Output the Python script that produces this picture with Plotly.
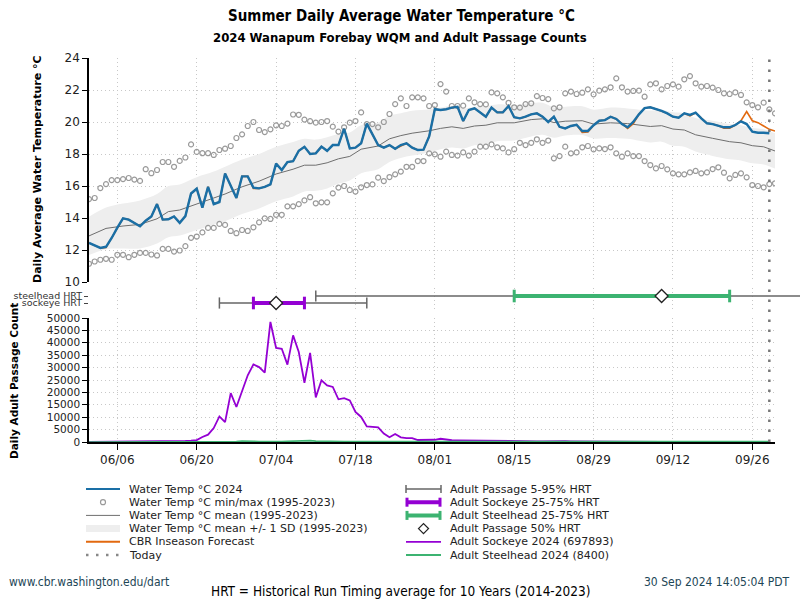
import plotly.graph_objects as go
import pandas as pd

# ---------------- data ----------------
START = "2024-06-01"
END = "2024-09-30"
TODAY = "2024-09-29"
tick_dates = ["2024-06-06", "2024-06-20", "2024-07-04", "2024-07-18", "2024-08-01",
              "2024-08-15", "2024-08-29", "2024-09-12", "2024-09-26"]

temp_2024 = [
    12.44, 12.28, 12.13, 12.20, 12.75, 13.40, 13.98, 13.90, 13.67, 13.48,
    13.83, 14.10, 14.87, 13.90, 13.92, 14.10, 13.70, 14.12, 15.53, 15.83,
    14.65, 15.95, 14.87, 15.00, 16.78, 16.00, 15.25, 16.60, 16.60, 15.90,
    15.85, 15.95, 16.10, 17.40, 17.00, 17.50, 17.55, 18.20, 18.45, 18.00,
    18.04, 18.46, 18.20, 18.56, 18.56, 19.58, 18.35, 18.40, 18.67, 19.90,
    19.20, 18.56, 18.40, 18.56, 18.33, 18.56, 18.67, 18.40, 18.25, 18.27,
    19.10, 20.80, 20.75, 20.80, 20.90, 20.95, 20.06, 20.75, 20.85, 20.60,
    20.33, 20.90, 20.60, 20.60, 21.00, 20.30, 20.23, 20.33, 20.48, 20.54,
    20.33, 20.00, 20.33, 19.70, 19.60, 19.75, 19.83, 19.44, 19.44, 19.80,
    20.08, 20.12, 20.33, 20.19, 19.87, 19.67, 20.00, 20.48, 20.87, 20.92,
    20.81, 20.69, 20.54, 20.33, 20.27, 20.54, 20.44, 20.58, 20.23, 19.92,
    19.87, 19.77, 19.67, 19.67, 19.81, 20.04, 19.87, 19.40, 19.33, 19.33,
    19.30]

forecast = [
    12.44, 12.28, 12.13, 12.15, 12.75, 13.40, 13.98, 13.90, 13.67, 13.48,
    13.83, 14.10, 14.87, 13.90, 13.92, 14.10, 13.70, 14.12, 15.53, 15.83,
    14.65, 15.95, 14.87, 15.00, 16.78, 16.00, 15.25, 16.60, 16.60, 15.85,
    15.85, 15.95, 16.10, 17.40, 17.00, 17.50, 17.55, 18.20, 18.45, 18.00,
    18.04, 18.46, 18.20, 18.56, 18.56, 19.58, 18.35, 18.40, 18.67, 19.90,
    19.20, 18.56, 18.40, 18.56, 18.33, 18.50, 18.67, 18.40, 18.25, 18.27,
    19.10, 20.80, 20.75, 20.80, 20.90, 20.95, 20.06, 20.75, 20.85, 20.60,
    20.33, 20.90, 20.60, 20.60, 21.00, 20.30, 20.23, 20.33, 20.48, 20.54,
    20.33, 20.00, 20.33, 19.70, 19.60, 19.75, 19.83, 19.35, 19.38, 19.80,
    20.08, 20.12, 20.33, 20.19, 19.87, 19.60, 19.90, 20.48, 20.87, 20.92,
    20.81, 20.69, 20.54, 20.33, 20.27, 20.54, 20.38, 20.58, 20.23, 19.92,
    19.87, 19.77, 19.62, 19.62, 19.81, 20.08, 20.65, 20.08, 19.96, 19.75,
    19.54, 19.44]

temp_max = [
    15.18, 15.25, 15.87, 16.12, 16.37, 16.37, 16.43, 16.50, 16.40, 16.32,
    17.05, 16.80, 17.00, 17.50, 17.50, 17.20, 17.57, 17.78, 18.60, 18.13,
    18.05, 18.05, 17.94, 18.25, 18.33, 18.50, 19.00, 19.23, 19.75, 20.00,
    19.50, 19.37, 19.54, 19.79, 19.75, 19.90, 20.47, 20.45, 20.15, 20.05,
    19.96, 20.00, 20.06, 19.71, 19.40, 19.67, 19.96, 20.06, 20.60, 19.87,
    19.87, 19.67, 20.00, 20.50, 21.12, 21.48, 21.00, 21.54, 21.54, 21.48,
    21.00, 21.06, 22.37, 21.90, 21.00, 21.00, 21.02, 21.48, 21.23, 21.12,
    21.10, 21.85, 21.79, 21.54, 21.20, 20.92, 20.90, 21.12, 21.17, 21.62,
    21.50, 21.43, 20.85, 20.92, 21.79, 21.90, 21.75, 21.83, 22.04, 21.73,
    21.96, 22.04, 22.17, 22.73, 22.17, 21.90, 21.94, 21.96, 21.58, 22.35,
    22.42, 22.04, 22.25, 22.35, 22.21, 22.67, 22.87, 22.42, 22.21, 22.25,
    22.15, 22.00, 21.79, 21.75, 21.85, 21.69, 21.23, 21.06, 20.92, 21.21,
    20.79, 20.54]

temp_min = [
    11.14, 11.28, 11.39, 11.45, 11.39, 11.70, 11.70, 11.55, 11.70, 11.82,
    11.82, 11.72, 11.66, 12.07, 12.07, 11.90, 11.97, 12.24, 12.76, 12.84,
    13.10, 13.38, 13.38, 13.63, 13.57, 13.19, 13.05, 13.25, 13.19, 13.42,
    13.73, 13.98, 13.94, 14.20, 14.20, 14.73, 14.73, 14.87, 15.10, 15.30,
    14.92, 14.98, 14.98, 15.54, 15.90, 16.00, 15.75, 15.65, 15.92, 16.06,
    16.10, 16.52, 16.31, 16.56, 16.73, 16.90, 17.20, 17.20, 17.56, 17.56,
    18.04, 17.98, 17.83, 18.15, 17.94, 17.90, 18.10, 17.90, 18.15, 18.46,
    18.46, 18.60, 18.42, 18.35, 18.10, 18.30, 18.70, 18.56, 18.70, 18.92,
    18.70, 18.84, 17.73, 17.87, 18.46, 18.04, 18.10, 18.42, 18.50, 18.29,
    18.35, 18.31, 18.42, 18.04, 17.83, 18.04, 17.87, 17.87, 17.56, 17.31,
    17.10, 17.25, 17.04, 16.79, 16.73, 16.73, 16.85, 16.94, 16.79, 16.85,
    17.06, 17.17, 16.83, 16.48, 16.69, 16.79, 16.54, 16.06, 16.00, 15.92,
    16.12, 16.17]

mean_day = [0, 3, 6, 9, 12, 14, 16, 19, 22, 24, 27, 30, 33, 36, 38, 40, 42, 44, 46, 48,
            51, 53, 55, 57, 60, 62, 64, 66, 68, 70, 72, 75, 78, 80, 82, 84, 87, 89, 92, 95,
            99, 101, 103, 105, 107, 110, 113, 115, 117, 119, 121]
mean_val = [12.88, 13.35, 13.50, 13.60, 13.95, 14.40, 14.50, 14.90, 15.25, 15.50,
            15.95, 16.30, 16.75, 17.05, 17.30, 17.30, 17.45, 17.70, 17.85, 18.30,
            18.50, 18.95, 19.15, 19.30, 19.45, 19.60, 19.70, 19.60, 19.75, 19.80,
            19.95, 19.95, 20.15, 20.20, 19.96, 20.05, 20.08, 19.87, 19.95, 19.90,
            19.72, 19.77, 19.56, 19.50, 19.20, 18.98, 18.77, 18.70, 18.52, 18.45,
            18.19]
sd_val = [1.20, 1.30, 1.40, 1.50, 1.55, 1.60, 1.60, 1.65, 1.65, 1.70,
          1.70, 1.70, 1.70, 1.70, 1.65, 1.60, 1.60, 1.55, 1.50, 1.50,
          1.45, 1.45, 1.40, 1.40, 1.35, 1.30, 1.30, 1.25, 1.20, 1.20,
          1.15, 1.10, 1.05, 1.00, 0.95, 0.90, 0.90, 0.90, 0.95, 0.95,
          1.00, 1.00, 1.05, 1.05, 1.05, 1.10, 1.10, 1.10, 1.10, 1.10,
          1.10]

sockeye_2024 = [
    80, 90, 100, 110, 100, 120, 130, 150, 140, 160,
    180, 200, 210, 230, 260, 300, 350, 420, 550, 800,
    2000, 2950, 5600, 10300, 8000, 19700, 14100, 20100, 26900, 31300,
    30200, 28000, 48400, 37900, 37600, 31200, 43000, 36300, 23900, 35900,
    18000, 24900, 22800, 22200, 17200, 17700, 16800, 12100, 10100, 6300,
    6000, 5900, 3400, 1900, 3200, 1900, 1600, 1600, 800, 850,
    880, 900, 1300, 900, 700, 650, 600, 560, 520, 480,
    450, 420, 400, 380, 350, 320, 300, 290, 280, 270,
    260, 300, 500, 450, 300, 250, 220, 200, 180, 160,
    150, 100, 40, 30, 60, 120, 140, 130, 120, 110,
    100, 90, 80, 60, 40, 30, 20, 20, 10, 15,
    10, 10, 10, 10, 10, 10, 10, 10, 10, 5,
    5]

steelhead_2024 = [
    10, 10, 12, 12, 15, 15, 18, 18, 20, 20,
    22, 25, 25, 28, 30, 30, 35, 35, 40, 45,
    50, 60, 70, 80, 100, 120, 200, 400, 450, 300,
    200, 150, 150, 180, 200, 250, 300, 400, 600, 550,
    350, 250, 200, 180, 160, 150, 140, 130, 120, 120,
    110, 110, 100, 100, 100, 110, 110, 120, 120, 130,
    130, 140, 140, 150, 150, 160, 160, 170, 170, 180,
    180, 190, 190, 200, 200, 210, 210, 220, 230, 240,
    250, 250, 260, 260, 270, 280, 290, 300, 300, 310,
    320, 330, 340, 350, 360, 370, 380, 390, 400, 400,
    400, 390, 380, 370, 360, 350, 340, 330, 320, 310,
    300, 290, 280, 270, 260, 250, 240, 230, 220, 210,
    200]

hrt_species = ["sockeye HRT", "steelhead HRT"]
hrt_p05 = ["2024-06-24", "2024-07-11"]
hrt_p25 = ["2024-06-30", "2024-08-15"]
hrt_p50 = ["2024-07-04", "2024-09-10"]
hrt_p75 = ["2024-07-09", "2024-09-22"]
hrt_p95 = ["2024-07-20", "2024-10-12"]

legend_left = ["Water Temp °C 2024", "Water Temp °C min/max (1995-2023)",
               "Water Temp °C mean (1995-2023)", "Water Temp °C mean +/- 1 SD (1995-2023)",
               "CBR Inseason Forecast", "Today"]
legend_right = ["Adult Passage 5-95% HRT", "Adult Sockeye 25-75% HRT",
                "Adult Steelhead 25-75% HRT", "Adult Passage 50% HRT",
                "Adult Sockeye 2024 (697893)", "Adult Steelhead 2024 (8400)"]

# ---------------- derived ----------------
start = pd.Timestamp(START)
d_temp = pd.date_range(START, periods=len(temp_2024), freq="D")
d_fc = pd.date_range(START, periods=len(forecast), freq="D")
d_hist = pd.date_range(START, periods=len(temp_max), freq="D")
d_mean = [start + pd.Timedelta(days=d) for d in mean_day]
upper = [m + s for m, s in zip(mean_val, sd_val)]
lower = [m - s for m, s in zip(mean_val, sd_val)]
d_count = pd.date_range(START, periods=len(sockeye_2024), freq="D")
hrt_y = list(range(len(hrt_species)))

# ---------------- layout geometry (pixels) ----------------
W, H = 800, 600
ML, MR, MT, MB = 89, 0, 58, 158
PW, PH = W - ML - MR, H - MT - MB
MAIN_R = 775
xdom_main = (MAIN_R - ML) / PW


def px(p):
    return (p - ML) / PW


def py(p):
    return (H - MB - p) / PH


span_days = (pd.Timestamp(END) - start).days
ext_end = pd.Timestamp(END) + pd.Timedelta(days=span_days * (W - MAIN_R) / (MAIN_R - ML))

BLUE = "#1a6fa6"
ORANGE = "#e2690f"
GREY_MEAN = "#6e6e6e"
BAND = "#eeeeee"
CIRC = "#9a9a9a"
PURPLE = "#9400d3"
GREEN = "#3cb371"
HRT_GREY = "#666666"
GRID = "#c8c8c8"
FONT = "DejaVu Sans"
COND = "DejaVu Sans Condensed, Liberation Sans Narrow, Open Sans, sans-serif"

fig = go.Figure()

# top panel
fig.add_trace(go.Scatter(x=d_mean, y=upper, mode="lines", line=dict(width=0, shape="spline"),
                         hoverinfo="skip", showlegend=False, xaxis="x", yaxis="y"))
fig.add_trace(go.Scatter(x=d_mean, y=lower, mode="lines", line=dict(width=0, shape="spline"),
                         fill="tonexty", fillcolor=BAND, name=legend_left[3],
                         showlegend=False, xaxis="x", yaxis="y"))
fig.add_trace(go.Scatter(x=d_mean, y=mean_val, mode="lines", line=dict(color=GREY_MEAN, width=1),
                         name=legend_left[2], showlegend=False, xaxis="x", yaxis="y"))
fig.add_trace(go.Scatter(x=d_hist, y=temp_max, mode="markers",
                         marker=dict(symbol="circle-open", size=5, color=CIRC, line=dict(width=1.2)),
                         name=legend_left[1], showlegend=False, xaxis="x", yaxis="y"))
fig.add_trace(go.Scatter(x=d_hist, y=temp_min, mode="markers",
                         marker=dict(symbol="circle-open", size=5, color=CIRC, line=dict(width=1.2)),
                         name=legend_left[1], showlegend=False, xaxis="x", yaxis="y"))
fig.add_trace(go.Scatter(x=d_fc, y=forecast, mode="lines", line=dict(color=ORANGE, width=1.6),
                         name=legend_left[4], showlegend=False, xaxis="x", yaxis="y"))
fig.add_trace(go.Scatter(x=d_temp, y=temp_2024, mode="lines", line=dict(color=BLUE, width=2.4),
                         name=legend_left[0], showlegend=False, xaxis="x", yaxis="y"))

# HRT strip
for i, sp in enumerate(hrt_species):
    fig.add_trace(go.Scatter(x=[hrt_p05[i], hrt_p95[i]], y=[hrt_y[i], hrt_y[i]],
                             mode="lines+markers", line=dict(color=HRT_GREY, width=1.5),
                             marker=dict(symbol="line-ns-open", size=8, color=HRT_GREY, line=dict(width=1.5, color=HRT_GREY)),
                             name=legend_right[0], showlegend=False, xaxis="x2", yaxis="y2", cliponaxis=False))
for i, (sp, col) in enumerate(zip(hrt_species, [PURPLE, GREEN])):
    fig.add_trace(go.Scatter(x=[hrt_p25[i], hrt_p75[i]], y=[hrt_y[i], hrt_y[i]],
                             mode="lines+markers", line=dict(color=col, width=4),
                             marker=dict(symbol="line-ns-open", size=9, color=col, line=dict(width=3, color=col)),
                             name=legend_right[1 + i], showlegend=False, xaxis="x2", yaxis="y2"))
fig.add_trace(go.Scatter(x=hrt_p50, y=hrt_y, mode="markers",
                         marker=dict(symbol="diamond", size=10, color="white", line=dict(width=1.3, color="#222")),
                         name=legend_right[3], showlegend=False, xaxis="x2", yaxis="y2"))

# bottom panel
fig.add_trace(go.Scatter(x=d_count, y=sockeye_2024, mode="lines", line=dict(color=PURPLE, width=1.8),
                         name=legend_right[4], showlegend=False, xaxis="x3", yaxis="y3"))
fig.add_trace(go.Scatter(x=d_count, y=steelhead_2024, mode="lines", line=dict(color=GREEN, width=1.6),
                         name=legend_right[5], showlegend=False, xaxis="x3", yaxis="y3"))

grid = dict(showgrid=True, gridcolor=GRID, griddash="1px,3px", gridwidth=1)
xcommon = dict(type="date", range=[START, END], tickvals=tick_dates, tickformat="%m/%d",
               zeroline=False, **grid)

fig.update_layout(
    width=W, height=H, margin=dict(l=ML, r=MR, t=MT, b=MB, autoexpand=False),
    paper_bgcolor="white", plot_bgcolor="white", showlegend=False,
    font=dict(family=FONT, size=12, color="#222"),
    xaxis=dict(domain=[0, xdom_main], anchor="y", showticklabels=False, ticks="", **xcommon),
    yaxis=dict(domain=[py(282), 1], range=[10, 24], dtick=2, showline=True, linecolor="black",
               linewidth=1.5, ticks="outside", ticklen=5, tickcolor="black",
               tickfont=dict(size=12, color="#222"), zeroline=False, **grid),
    xaxis2=dict(domain=[0, 1], anchor="y2", type="date", range=[START, ext_end],
                tickvals=tick_dates, showticklabels=False, ticks="", zeroline=False, **grid),
    yaxis2=dict(domain=[py(312), py(288)], range=[-1.286, 2.143], tickvals=hrt_y, ticktext=hrt_species,
                ticks="outside", ticklen=4, tickcolor="#444", showgrid=False, zeroline=False,
                showline=False, tickfont=dict(size=9.5, color="#333")),
    xaxis3=dict(domain=[0, xdom_main], anchor="y3", showline=True, linecolor="black", linewidth=1.5,
                ticks="outside", ticklen=6, tickcolor="black", tickfont=dict(size=12, color="#222"),
                **xcommon),
    yaxis3=dict(domain=[0, py(318)], range=[0, 50000], dtick=5000, tickformat="d", showline=True,
                linecolor="black", linewidth=1.5, ticks="outside", ticklen=5, tickcolor="black",
                tickfont=dict(size=10.5, color="#222"), zeroline=False, **grid),
)

shapes = []
# today line spanning all panels
shapes.append(dict(type="line", xref="x", yref="paper", x0=TODAY, x1=TODAY, y0=0, y1=1,
                   line=dict(color="#777", width=2.5, dash="2.5px,7.5px"), layer="above"))

ann = []


def text(t, x, y, size, color="#222", family=FONT, xanchor="center", angle=0):
    ann.append(dict(text=t, xref="paper", yref="paper", x=px(x), y=py(y), xanchor=xanchor,
                    yanchor="middle", textangle=angle, showarrow=False,
                    font=dict(family=family, size=size, color=color)))


# titles
text("<b>Summer Daily Average Water Temperature °C</b>", 401, 16, 15, "black", COND)
text("<b>2024 Wanapum Forebay WQM and Adult Passage Counts</b>", 400, 37, 13, "black", COND)
text("<b>Daily Average Water Temperature °C</b>", 37, 169, 11, "black", FONT, angle=-90)
text("<b>Daily Adult Passage Count</b>", 14, 381, 10.5, "black", FONT, angle=-90)
# footer
text("www.cbr.washington.edu/dart", 7, 582, 12, "#1d4656", COND, xanchor="left")
text("30 Sep 2024 14:05:04 PDT", 792, 582, 12, "#1d4656", COND, xanchor="right")
text("HRT = Historical Run Timing average for 10 Years (2014-2023)", 400, 591, 13.5, "black", COND)

# manual two-column legend
row_y = [489 + 13.2 * i for i in range(6)]
LX0, LX1, LTX = 86, 120, 127
RX0, RX1, RTX = 406, 441, 448
for i, t in enumerate(legend_left):
    text(t, LTX, row_y[i], 11, "#222", FONT, xanchor="left")
for i, t in enumerate(legend_right):
    text(t, RTX, row_y[i], 11, "#222", FONT, xanchor="left")


def hline(x0, x1, y, color, width, dash=None):
    ln = dict(color=color, width=width)
    if dash:
        ln["dash"] = dash
    return dict(type="line", xref="paper", yref="paper", x0=px(x0), x1=px(x1), y0=py(y), y1=py(y), line=ln)


def vline(x, y0, y1, color, width):
    return dict(type="line", xref="paper", yref="paper", x0=px(x), x1=px(x), y0=py(y0), y1=py(y1),
                line=dict(color=color, width=width))


cx = (LX0 + LX1) / 2
shapes.append(hline(LX0, LX1, row_y[0], BLUE, 2))
shapes.append(dict(type="circle", xref="paper", yref="paper", x0=px(cx - 2.5), x1=px(cx + 2.5),
                   y0=py(row_y[1] + 2.5), y1=py(row_y[1] - 2.5), line=dict(color=CIRC, width=1.2)))
shapes.append(hline(LX0, LX1, row_y[2], GREY_MEAN, 1))
shapes.append(dict(type="rect", xref="paper", yref="paper", x0=px(LX0), x1=px(LX1),
                   y0=py(row_y[3] + 3.5), y1=py(row_y[3] - 3.5), fillcolor=BAND, line=dict(width=0)))
shapes.append(hline(LX0, LX1, row_y[4], ORANGE, 2))
shapes.append(hline(LX0, LX1 + 2, row_y[5], "#888", 2.5, "2.5px,7.5px"))

rc = (RX0 + RX1) / 2
shapes.append(hline(RX0, RX1, row_y[0], HRT_GREY, 1.5))
shapes.append(vline(RX0, row_y[0] - 4, row_y[0] + 4, HRT_GREY, 1.5))
shapes.append(vline(RX1, row_y[0] - 4, row_y[0] + 4, HRT_GREY, 1.5))
for k, col in [(1, PURPLE), (2, GREEN)]:
    shapes.append(hline(RX0, RX1, row_y[k], col, 4))
    shapes.append(vline(RX0 + 1, row_y[k] - 4.5, row_y[k] + 4.5, col, 3))
    shapes.append(vline(RX1 - 1, row_y[k] - 4.5, row_y[k] + 4.5, col, 3))
dy = row_y[3]
shapes.append(dict(type="path", xref="paper", yref="paper",
                   path=f"M {px(rc - 5)},{py(dy)} L {px(rc)},{py(dy - 5)} L {px(rc + 5)},{py(dy)} L {px(rc)},{py(dy + 5)} Z",
                   fillcolor="white", line=dict(color="#222", width=1.3)))
shapes.append(hline(RX0, RX1, row_y[4], PURPLE, 1.8))
shapes.append(hline(RX0, RX1, row_y[5], GREEN, 1.8))

fig.update_layout(shapes=shapes, annotations=ann)
fig.write_html("out.html", config={"displayModeBar": False},
               post_script="document.body.style.margin='0';")
